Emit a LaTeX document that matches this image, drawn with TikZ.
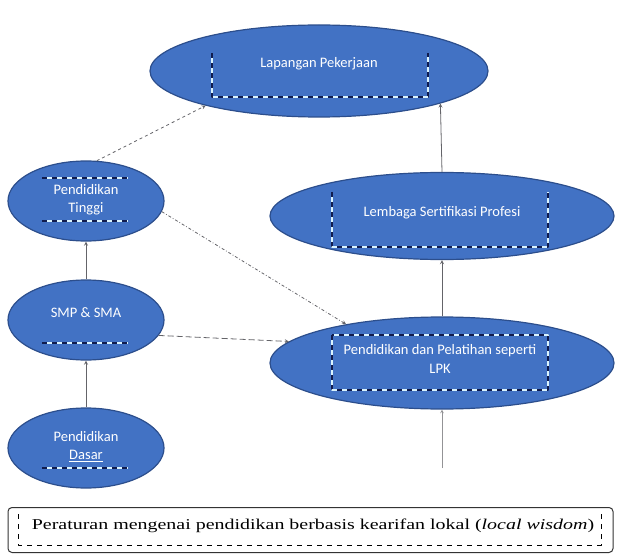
\documentclass[tikz,border=0pt]{standalone}
\usepackage{fontspec}
\setmainfont{Liberation Serif}
\newfontfamily\calib{Carlito}
\usetikzlibrary{shapes.geometric}
\definecolor{elblue}{RGB}{66,114,196}
\definecolor{elborder}{RGB}{44,78,140}
\definecolor{navyline}{RGB}{16,28,78}
\definecolor{linkgray}{RGB}{100,100,105}
\tikzset{
  bub/.style={ellipse, fill=elblue, draw=elborder, line width=1.2pt, inner sep=0pt},
  bubtext/.style={text=white, font=\calib\fontsize{14.5}{17}\selectfont, align=center, inner sep=0pt},
  dashnavy/.style={navyline, line width=1.1pt, dash pattern=on 5pt off 5pt},
  dashwhite/.style={white!85!cyan, line width=1.1pt, dash pattern=on 5pt off 5pt, dash phase=5pt},
  link/.style={->, linkgray, line width=0.8pt},
}
% two coloured dashes, as in the inner frames
\newcommand{\twodash}[1]{\draw[dashnavy] #1; \draw[dashwhite] #1;}
\begin{document}
\begin{tikzpicture}[x=1pt, y=-1pt, line join=round, >=stealth]
 	\useasboundingbox (0,0) rectangle (619,559);
 	% ellipses
 	\node[bub, minimum width=338, minimum height=92] (lapangan) at (319,71) {};
 	\node[bub, minimum width=156, minimum height=80] (tinggi) at (86,201) {};
 	\node[bub, minimum width=156, minimum height=80] (smp) at (86,320) {};
 	\node[bub, minimum width=156, minimum height=80] (dasar) at (86,448) {};
 	\node[bub, minimum width=344, minimum height=87] (lembaga) at (442,216) {};
 	\node[bub, minimum width=344, minimum height=92] (lpk) at (442,363) {};
 	% inner frames
 	\twodash{(212,53) -- (212,97) -- (428,97) -- (428,53)}
 	\twodash{(332,192) -- (332,247) -- (548,247) -- (548,192)}
 	\twodash{(332,335) rectangle (548,390)}
 	\twodash{(42,178) -- (128,178)}
 	\twodash{(42,221) -- (128,221)}
 	\twodash{(42,343) -- (128,343)}
 	\twodash{(42,468) -- (128,468)}
 	% texts
 	\path
 	(319,64) node[bubtext] (lapangantxt) {Lapangan Pekerjaan}
 	(442,213) node[bubtext] (lembagatxt) {Lembaga Sertifikasi Profesi}
 	(440,359) node[bubtext] (lpktxt) {Pendidikan dan Pelatihan seperti\\[2pt]LPK}
 	(86,200) node[bubtext] (tinggitxt) {Pendidikan\\[1pt]Tinggi}
 	(86,313) node[bubtext] (smptxt) {SMP \& SMA}
 	(86,447) node[bubtext] (dasartxt) {Pendidikan\\[1pt]\underline{Dasar}}
 	;
 	% connectors
 	\draw[link] (dasar.north) -- (smp.south);
 	\draw[link] (smp.north) -- (tinggi.south);
 	\draw[link] (lpk.north) -- (lembaga.south);
 	\draw[link] (lembaga.north) -- (lapangan.-15);
 	\coordinate (bawah) at (442,468);
 	\draw[link, linkgray!70, line width=0.6pt] (bawah) -- (lpk.south);
 	\draw[link, dashed] (tinggi.75) -- (lapangan.197);
 	\draw[link, dash dot] (tinggi.-8) -- (lpk.158);
 	\draw[link, dash pattern=on 6pt off 3pt] (smp.-12) -- (lpk.172);
 	% bottom frame
 	\node[draw=black!80, rounded corners=4pt, line width=1pt, minimum width=605, minimum height=45] (aturanbox) at (310.5,530) {};
 	\draw[black, line width=0.9pt, dash pattern=on 5pt off 5pt] (18,514) -- (18,545) -- (601,545) -- (601,514);
 	\node[font=\fontsize{15}{18}\selectfont, inner sep=0pt] (aturan) at (313,526) {\scalebox{1.33}[1]{Peraturan mengenai pendidikan berbasis kearifan lokal (\textit{local wisdom})}};
\end{tikzpicture}
\end{document}
